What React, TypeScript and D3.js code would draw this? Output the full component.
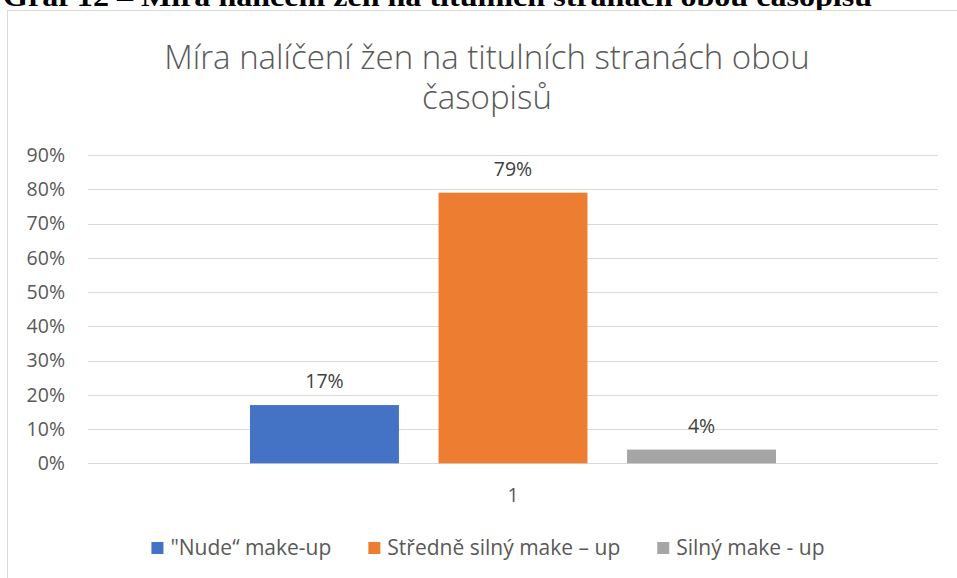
import React, { useRef, useEffect } from 'react';
import * as d3 from 'd3';

const categories = ['1'];
const seriesNames = ['"Nude“ make-up', 'Středně silný make – up', 'Silný make - up'];
const seriesValues = [0.17, 0.79, 0.04];
const seriesColors = ['#4472c4', '#ed7d31', '#a5a5a5'];
const yTicks = [0, 0.1, 0.2, 0.3, 0.4, 0.5, 0.6, 0.7, 0.8, 0.9];
const titleLines = ['Míra nalíčení žen na titulních stranách obou', 'časopisů'];
const captionText = 'Graf 12 – Míra nalíčení žen na titulních stranách obou časopisů';

export default function App() {
  const svgRef = useRef<SVGSVGElement>(null);

  useEffect(() => {
    if (!svgRef.current) return;
    const svg = d3.select(svgRef.current);
    svg.selectAll('*').remove();

    const width = 957;
    const height = 578;
    const font = '"Open Sans", sans-serif';
    const textColor = '#595959';
    const fs = 19.5;
    const plot = { left: 88, right: 938, top: 155, bottom: 463.3 };

    svg.append('rect').attr('width', width).attr('height', height).attr('fill', '#fff');

    // caption of the document, cut by the top edge
    svg.append('text')
      .attr('x', 3)
      .attr('y', 6)
      .attr('font-family', '"Liberation Serif", serif')
      .attr('font-weight', 'bold')
      .attr('font-size', 27)
      .attr('textLength', 869)
      .attr('lengthAdjust', 'spacingAndGlyphs')
      .attr('fill', '#000')
      .text(captionText);

    // chart area border
    svg.append('rect')
      .attr('x', 7.5)
      .attr('y', 10.5)
      .attr('width', 980)
      .attr('height', 600)
      .attr('fill', '#fff')
      .attr('stroke', '#d9d9d9')
      .attr('stroke-width', 1);

    // title
    svg.append('g')
      .selectAll('text')
      .data(titleLines)
      .enter()
      .append('text')
      .attr('x', 487)
      .attr('y', (_, i) => 69 + i * 40)
      .attr('text-anchor', 'middle')
      .attr('font-family', font)
      .attr('font-weight', 300)
      .attr('font-size', 33)
      .attr('fill', textColor)
      .text(d => d);

    const y = d3.scaleLinear().domain([0, 0.9]).range([plot.bottom, plot.top]);

    const x0 = d3.scaleBand<string>()
      .domain(categories)
      .range([plot.left, plot.right])
      .paddingInner(0)
      .paddingOuter(0.308);

    const x1 = d3.scaleBand<string>()
      .domain(seriesNames)
      .range([0, x0.bandwidth()])
      .paddingInner(0.21)
      .paddingOuter(0);

    // gridlines
    svg.append('g')
      .selectAll('line')
      .data(yTicks)
      .enter()
      .append('line')
      .attr('x1', plot.left)
      .attr('x2', plot.right)
      .attr('y1', d => Math.round(y(d)) + 0.5)
      .attr('y2', d => Math.round(y(d)) + 0.5)
      .attr('stroke', '#d9d9d9')
      .attr('stroke-width', 1);

    // y axis labels
    const yAxis = svg.append('g')
      .attr('transform', `translate(${plot.left},0)`)
      .call(d3.axisLeft(y).tickValues(yTicks).tickFormat(d3.format('.0%')).tickSize(0).tickPadding(23));
    yAxis.select('.domain').remove();
    yAxis.selectAll('text')
      .attr('font-family', font)
      .attr('font-size', fs)
      .attr('fill', textColor);

    // bars
    const group = svg.append('g')
      .selectAll('g')
      .data(categories)
      .enter()
      .append('g')
      .attr('transform', d => `translate(${x0(d)},0)`);

    const rows = seriesNames.map((name, i) => ({ name, value: seriesValues[i], color: seriesColors[i] }));

    group.selectAll('rect')
      .data(rows)
      .enter()
      .append('rect')
      .attr('x', d => x1(d.name) as number)
      .attr('y', d => y(d.value))
      .attr('width', x1.bandwidth())
      .attr('height', d => y(0) - y(d.value))
      .attr('fill', d => d.color);

    group.selectAll('text.val')
      .data(rows)
      .enter()
      .append('text')
      .attr('class', 'val')
      .attr('x', d => (x1(d.name) as number) + x1.bandwidth() / 2)
      .attr('y', d => y(d.value) - 17)
      .attr('text-anchor', 'middle')
      .attr('font-family', font)
      .attr('font-size', fs)
      .attr('fill', '#404040')
      .text(d => d3.format('.0%')(d.value));

    // category axis
    svg.append('g')
      .selectAll('text')
      .data(categories)
      .enter()
      .append('text')
      .attr('x', d => (x0(d) as number) + x0.bandwidth() / 2)
      .attr('y', 502)
      .attr('text-anchor', 'middle')
      .attr('font-family', font)
      .attr('font-size', fs)
      .attr('fill', textColor)
      .text(d => d);

    // legend
    const legend = svg.append('g').attr('transform', 'translate(0,548)');
    const items = legend.selectAll('g')
      .data(rows)
      .enter()
      .append('g');
    items.append('rect')
      .attr('y', -6)
      .attr('width', 12)
      .attr('height', 12)
      .attr('fill', d => d.color);
    items.append('text')
      .attr('x', 19)
      .attr('y', 7)
      .attr('font-family', font)
      .attr('font-size', 21)
      .attr('fill', textColor)
      .text(d => d.name);

    const widths: number[] = [];
    items.each(function () {
      const t = d3.select(this).select('text').node() as SVGTextElement;
      widths.push(19 + t.getComputedTextLength());
    });
    const gap = 37;
    const total = d3.sum(widths) + gap * (widths.length - 1);
    let cx = 488 - total / 2;
    items.attr('transform', (_, i) => {
      const tx = cx;
      cx += widths[i] + gap;
      return `translate(${tx},0)`;
    });
  }, []);

  return (
    <svg
      ref={svgRef}
      width={957}
      height={578}
      style={{ position: 'absolute', left: 0, top: 0, display: 'block' }}
    />
  );
}
